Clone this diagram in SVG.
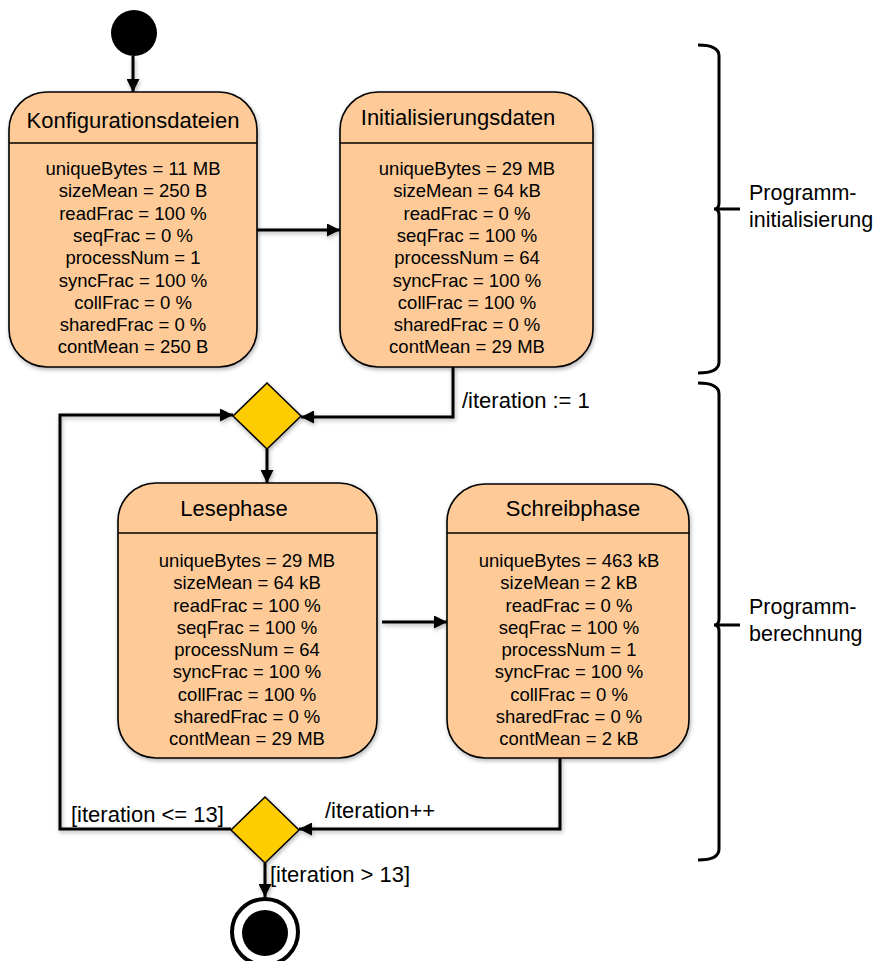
<svg xmlns="http://www.w3.org/2000/svg" width="878" height="961" viewBox="0 0 878 961">
  <style>
    .state { fill: #FECB98; stroke: #000; stroke-width: 1.6; }
    .div { stroke: #000; stroke-width: 1.6; }
    .title { font-family: "Liberation Sans", Arial, sans-serif; font-size: 22px; fill: #000; text-anchor: middle; }
    .attr { font-family: "Liberation Sans", Arial, sans-serif; font-size: 18.5px; fill: #000; text-anchor: middle; }
    .lbl { font-family: "Liberation Sans", Arial, sans-serif; font-size: 22px; fill: #000; }
    .side { font-family: "Liberation Sans", Arial, sans-serif; font-size: 21.5px; fill: #000; }
    .edge { fill: none; stroke: #000; stroke-width: 3; }
    .decision { fill: #FFCC00; stroke: #000; stroke-width: 1.5; }
    .brace { fill: none; stroke: #000; stroke-width: 3; }
  </style>
  <defs>
    <filter id="shadow" x="-10%" y="-10%" width="130%" height="130%">
      <feDropShadow dx="1" dy="2" stdDeviation="2" flood-color="#000" flood-opacity="0.3"/>
    </filter>
    <marker id="arrow" viewBox="0 0 13 13" refX="13" refY="6.5" markerWidth="13" markerHeight="13" markerUnits="userSpaceOnUse" orient="auto">
      <path d="M0,0 L13,6.5 L0,13 Z" fill="#000"/>
    </marker>
  </defs>

  <!-- initial state -->
  <g id="start">
    <circle cx="134" cy="33" r="23" fill="#000"/>
  </g>

  <!-- connectors -->
  <g id="connectors" filter="url(#shadow)">
    <path class="edge" d="M133,56 L133,92" marker-end="url(#arrow)"/>
    <path class="edge" d="M257,230 L340,230" marker-end="url(#arrow)"/>
    <path class="edge" d="M453,367 L453,417 L301,417" marker-end="url(#arrow)"/>
    <path class="edge" d="M267,449 L267,483" marker-end="url(#arrow)"/>
    <path class="edge" d="M231,829 L60,829 L60,415 L233,415" marker-end="url(#arrow)"/>
    <path class="edge" d="M382,622 L447,622" marker-end="url(#arrow)"/>
    <path class="edge" d="M560,758 L560,829 L299,829" marker-end="url(#arrow)"/>
    <path class="edge" d="M265,863 L265,897" marker-end="url(#arrow)"/>
  </g>

  <!-- Konfigurationsdateien -->
  <g id="konfigurationsdateien">
    <rect class="state" x="9" y="92" width="248" height="275" rx="38" filter="url(#shadow)"/>
    <line class="div" x1="9" y1="143" x2="257" y2="143"/>
    <text class="title" x="133" y="128">Konfigurationsdateien</text>
    <text class="attr" x="133" y="175">uniqueBytes = 11 MB</text>
    <text class="attr" x="133" y="197.3">sizeMean = 250 B</text>
    <text class="attr" x="133" y="219.6">readFrac = 100 %</text>
    <text class="attr" x="133" y="241.9">seqFrac = 0 %</text>
    <text class="attr" x="133" y="264.2">processNum = 1</text>
    <text class="attr" x="133" y="286.5">syncFrac = 100 %</text>
    <text class="attr" x="133" y="308.8">collFrac = 0 %</text>
    <text class="attr" x="133" y="331.1">sharedFrac = 0 %</text>
    <text class="attr" x="133" y="353.4">contMean = 250 B</text>
  </g>

  <!-- Initialisierungsdaten -->
  <g id="initialisierungsdaten">
    <rect class="state" x="340" y="92" width="253" height="275" rx="38" filter="url(#shadow)"/>
    <line class="div" x1="340" y1="143" x2="593" y2="143"/>
    <text class="title" x="458" y="125">Initialisierungsdaten</text>
    <text class="attr" x="467" y="175">uniqueBytes = 29 MB</text>
    <text class="attr" x="467" y="197.3">sizeMean = 64 kB</text>
    <text class="attr" x="467" y="219.6">readFrac = 0 %</text>
    <text class="attr" x="467" y="241.9">seqFrac = 100 %</text>
    <text class="attr" x="467" y="264.2">processNum = 64</text>
    <text class="attr" x="467" y="286.5">syncFrac = 100 %</text>
    <text class="attr" x="467" y="308.8">collFrac = 100 %</text>
    <text class="attr" x="467" y="331.1">sharedFrac = 0 %</text>
    <text class="attr" x="467" y="353.4">contMean = 29 MB</text>
  </g>

  <!-- merge decision -->
  <g id="merge">
    <polygon class="decision" points="267,383 301,416 267,449 233,416" filter="url(#shadow)"/>
  </g>

  <!-- Lesephase -->
  <g id="lesephase">
    <rect class="state" x="118" y="483" width="259" height="275" rx="38" filter="url(#shadow)"/>
    <line class="div" x1="118" y1="533" x2="377" y2="533"/>
    <text class="title" x="234" y="516">Lesephase</text>
    <text class="attr" x="247" y="567">uniqueBytes = 29 MB</text>
    <text class="attr" x="247" y="589.25">sizeMean = 64 kB</text>
    <text class="attr" x="247" y="611.5">readFrac = 100 %</text>
    <text class="attr" x="247" y="633.75">seqFrac = 100 %</text>
    <text class="attr" x="247" y="656">processNum = 64</text>
    <text class="attr" x="247" y="678.25">syncFrac = 100 %</text>
    <text class="attr" x="247" y="700.5">collFrac = 100 %</text>
    <text class="attr" x="247" y="722.75">sharedFrac = 0 %</text>
    <text class="attr" x="247" y="745">contMean = 29 MB</text>
  </g>

  <!-- Schreibphase -->
  <g id="schreibphase">
    <rect class="state" x="447" y="484" width="242" height="274" rx="38" filter="url(#shadow)"/>
    <line class="div" x1="447" y1="533" x2="689" y2="533"/>
    <text class="title" x="573" y="516">Schreibphase</text>
    <text class="attr" x="569" y="567">uniqueBytes = 463 kB</text>
    <text class="attr" x="569" y="589.25">sizeMean = 2 kB</text>
    <text class="attr" x="569" y="611.5">readFrac = 0 %</text>
    <text class="attr" x="569" y="633.75">seqFrac = 100 %</text>
    <text class="attr" x="569" y="656">processNum = 1</text>
    <text class="attr" x="569" y="678.25">syncFrac = 100 %</text>
    <text class="attr" x="569" y="700.5">collFrac = 0 %</text>
    <text class="attr" x="569" y="722.75">sharedFrac = 0 %</text>
    <text class="attr" x="569" y="745">contMean = 2 kB</text>
  </g>

  <!-- loop decision -->
  <g id="loop-decision">
    <polygon class="decision" points="265,797 299,830 265,863 231,830" filter="url(#shadow)"/>
  </g>

  <!-- final state -->
  <g id="end">
    <circle cx="265" cy="932" r="33" fill="#fff" stroke="#000" stroke-width="4"/>
    <circle cx="265" cy="933" r="23" fill="#000"/>
  </g>

  <!-- transition labels -->
  <g id="labels">
    <text class="lbl" x="462" y="408">/iteration := 1</text>
    <text class="lbl" x="71" y="822">[iteration &lt;= 13]</text>
    <text class="lbl" x="325" y="818">/iteration++</text>
    <text class="lbl" x="270" y="882">[iteration &gt; 13]</text>
  </g>

  <!-- phase braces -->
  <g id="phase-init">
    <path class="brace" d="M698,45 Q719,45 719,56 L719,203 Q719,209 714,209 L740,209 M714,209 Q719,209 719,215 L719,362 Q719,373 698,373"/>
    <text class="side" x="749" y="200">Programm-</text>
    <text class="side" x="749" y="227">initialisierung</text>
  </g>
  <g id="phase-compute">
    <path class="brace" d="M698,383 Q719,383 719,394 L719,619 Q719,625 714,625 L740,625 M714,625 Q719,625 719,631 L719,849 Q719,860 698,860"/>
    <text class="side" x="749" y="614">Programm-</text>
    <text class="side" x="749" y="641">berechnung</text>
  </g>
</svg>
